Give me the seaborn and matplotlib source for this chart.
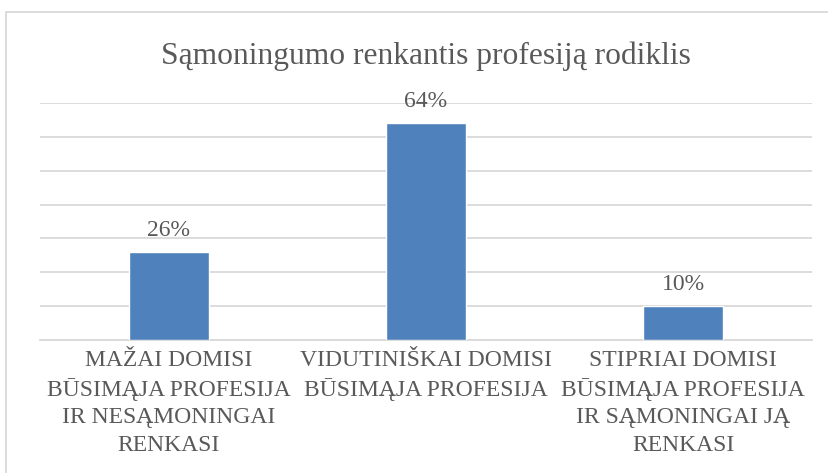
import numpy as np
import pandas as pd
import seaborn as sns
import matplotlib.pyplot as plt
from matplotlib.patches import Rectangle

# chart data
categories = [
    "MAŽAI DOMISI\nBŪSIMĄJA PROFESIJA\nIR NESĄMONINGAI\nRENKASI",
    "VIDUTINIŠKAI DOMISI\nBŪSIMĄJA PROFESIJA",
    "STIPRIAI DOMISI\nBŪSIMĄJA PROFESIJA\nIR SĄMONINGAI JĄ\nRENKASI",
]
values = [26, 64, 10]
title = "Sąmoningumo renkantis profesiją rodiklis"

df = pd.DataFrame({"cat": categories, "val": values})

sns.set_theme(style="white")
plt.rcParams["font.family"] = ["Liberation Serif", "DejaVu Serif"]
text_col = "#595959"
grid_col = "#D9D9D9"

fig = plt.figure(figsize=(8.29, 4.73), dpi=100)
ax = fig.add_axes([40 / 829, 1 - 340 / 473, 772 / 829, 237 / 473])

sns.barplot(data=df, x="cat", y="val", color="#4F81BD", saturation=1,
            width=0.31, ax=ax, zorder=3)

ax.set_ylim(0, 70)
ax.set_yticks(np.arange(0, 71, 10))
ax.yaxis.grid(True, color=grid_col, linewidth=1.3, zorder=0)
ax.set_yticklabels([])
ax.tick_params(axis="y", length=0)
ax.tick_params(axis="x", length=0, pad=7, labelsize=17, colors=text_col)
for s in ["top", "right", "left"]:
    ax.spines[s].set_visible(False)
ax.spines["bottom"].set_color(grid_col)
ax.spines["bottom"].set_linewidth(1.3)
ax.set_xlabel("")
ax.set_ylabel("")
for lbl in ax.get_xticklabels():
    lbl.set_linespacing(1.4)

ax.bar_label(ax.containers[0], labels=[f"{v}%" for v in values],
             padding=8, fontsize=17, color=text_col)

# title centred over the plot area
fig.text(426 / 829, 1 - 56 / 473, title, ha="center", va="center",
         fontsize=22.7, color=text_col)

# chart area border
fig.patches.append(Rectangle((6 / 829, -0.1), 1.0, (473 - 12) / 473 + 0.1,
                             transform=fig.transFigure, fill=False,
                             edgecolor=grid_col, linewidth=1.3))

fig.savefig("out.png", dpi=100)
